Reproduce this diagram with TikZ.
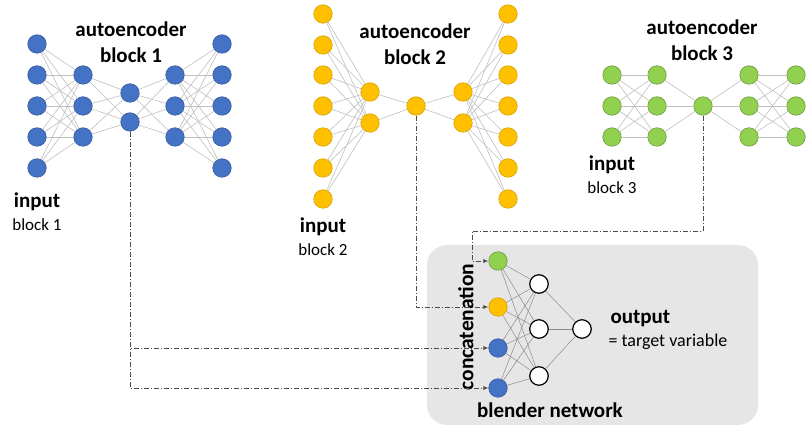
\documentclass[tikz,border=0pt]{standalone}
\usepackage{fontspec}
\setmainfont{Carlito}
\usetikzlibrary{arrows.meta}

\definecolor{aeblue}{HTML}{4472C4}
\definecolor{aeorange}{HTML}{FFC000}
\definecolor{aegreen}{HTML}{92D050}
\definecolor{blendgray}{HTML}{E7E6E6}

\begin{document}
\begin{tikzpicture}[x=1pt, y=-1pt,
  neuron/.style={circle, inner sep=0pt, minimum size=18.5pt, line width=0.6pt},
  blueneuron/.style={neuron, fill=aeblue, draw=aeblue!80!black},
  orangeneuron/.style={neuron, fill=aeorange, draw=aeorange!85!black},
  greenneuron/.style={neuron, fill=aegreen, draw=aegreen!75!black},
  whiteneuron/.style={neuron, fill=white, draw=black, line width=1.2pt},
  edge/.style={draw=black!25, line width=0.6pt},
  blendedge/.style={draw=black!45, line width=0.5pt},
  link/.style={draw=black!70, line width=0.8pt, dash pattern=on 5pt off 2pt on 1pt off 2pt,
    -{Latex[length=5pt,width=4pt]}},
  headtext/.style={font=\fontsize{21}{26}\selectfont\bfseries, align=center},
  smalltext/.style={font=\fontsize{17}{20}\selectfont}]
  \useasboundingbox (0,0) rectangle (806,427);

  % blender background
  \fill[blendgray, rounded corners=20pt] (427,245) rectangle (758,425);

  % autoencoder block 1
  \foreach \y [count=\i] in {44,75,106,137,168} {
    \node[blueneuron] (A1-\i) at (37,\y) {};
    \node[blueneuron] (A5-\i) at (222,\y) {};
  }
  \foreach \y [count=\i] in {75,106,137} {
    \node[blueneuron] (A2-\i) at (83,\y) {};
    \node[blueneuron] (A4-\i) at (175,\y) {};
  }
  \foreach \y [count=\i] in {93,122} \node[blueneuron] (A3-\i) at (130,\y) {};
  \foreach \i in {1,...,5} \foreach \j in {1,...,3} {
    \draw[edge] (A1-\i) -- (A2-\j);
    \draw[edge] (A4-\j) -- (A5-\i);
  }
  \foreach \i in {1,...,3} \foreach \j in {1,2} {
    \draw[edge] (A2-\i) -- (A3-\j);
    \draw[edge] (A3-\j) -- (A4-\i);
  }
  \node[headtext] (title1) at (131,42) {autoencoder\\block 1};
  \node[headtext] (input1) at (37,202) {input};
  \node[smalltext] (inblock1) at (37,225) {block 1};

  % autoencoder block 2
  \foreach \y [count=\i] in {14,45,75,106,137,168,199} {
    \node[orangeneuron] (B1-\i) at (323,\y) {};
    \node[orangeneuron] (B5-\i) at (508,\y) {};
  }
  \foreach \y [count=\i] in {92,123} {
    \node[orangeneuron] (B2-\i) at (370,\y) {};
    \node[orangeneuron] (B4-\i) at (463,\y) {};
  }
  \node[orangeneuron] (B3-1) at (416,106) {};
  \foreach \i in {1,...,7} \foreach \j in {1,2} {
    \draw[edge] (B1-\i) -- (B2-\j);
    \draw[edge] (B4-\j) -- (B5-\i);
  }
  \foreach \j in {1,2} {
    \draw[edge] (B2-\j) -- (B3-1);
    \draw[edge] (B3-1) -- (B4-\j);
  }
  \node[headtext] (title2) at (415,44) {autoencoder\\block 2};
  \node[headtext] (input2) at (323,227) {input};
  \node[smalltext] (inblock2) at (323,250) {block 2};

  % autoencoder block 3
  \foreach \y [count=\i] in {75,106,137} {
    \node[greenneuron] (C1-\i) at (612,\y) {};
    \node[greenneuron] (C2-\i) at (657,\y) {};
    \node[greenneuron] (C4-\i) at (749,\y) {};
    \node[greenneuron] (C5-\i) at (796,\y) {};
  }
  \node[greenneuron] (C3-1) at (703,106) {};
  \foreach \i in {1,...,3} {
    \foreach \j in {1,...,3} {
      \draw[edge] (C1-\i) -- (C2-\j);
      \draw[edge] (C4-\i) -- (C5-\j);
    }
    \draw[edge] (C2-\i) -- (C3-1);
    \draw[edge] (C3-1) -- (C4-\i);
  }
  \node[headtext] (title3) at (702,40) {autoencoder\\block 3};
  \node[headtext] (input3) at (612,165) {input};
  \node[smalltext] (inblock3) at (612,188) {block 3};

  % blender network
  \node[greenneuron] (E-1) at (498,261) {};
  \node[orangeneuron] (E-2) at (498,307) {};
  \node[blueneuron] (E-3) at (498,348) {};
  \node[blueneuron] (E-4) at (498,388) {};
  \foreach \y [count=\i] in {284,329,376} \node[whiteneuron] (H-\i) at (539,\y) {};
  \node[whiteneuron] (out) at (582,329) {};
  \foreach \i in {1,...,4} \foreach \j in {1,...,3} \draw[blendedge] (E-\i) -- (H-\j);
  \foreach \j in {1,...,3} \draw[blendedge] (H-\j) -- (out);
  \node[headtext, rotate=90] (concat) at (466,327) {\fontsize{21.5}{24}\selectfont concatenation};
  \node[headtext] (blender) at (550,410) {blender network};
  \node[headtext, anchor=west] (outtext) at (607,319) {output};
  \node[smalltext, anchor=west] (target) at (605,342) {\fontsize{18}{20}\selectfont = target variable};

  % links to the blender
  \coordinate (bend3) at (472,231);
  \draw[link] (A3-2) |- (E-3);
  \draw[link] (A3-2) |- (E-4);
  \draw[link] (B3-1) |- (E-2);
  \draw[link] (C3-1) |- (bend3) |- (E-1);
\end{tikzpicture}
\end{document}
